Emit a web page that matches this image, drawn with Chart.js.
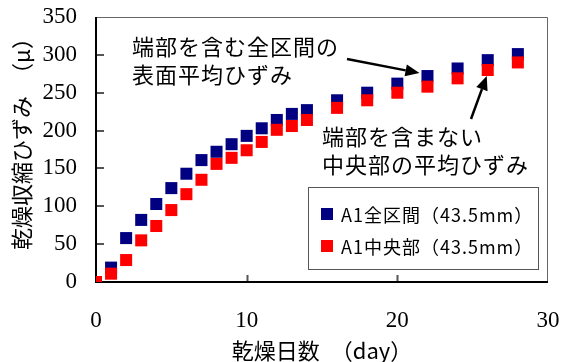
<!DOCTYPE html>
<html lang="ja">
<head>
<meta charset="utf-8">
<script src="https://cdn.jsdelivr.net/npm/chart.js@4"></script>
<style>
  body { margin: 0; background: #fff; }
  canvas { display: block; }
</style>
</head>
<body>
<canvas id="kansoChart" width="561" height="362"></canvas>
<script>
// 乾燥日数 (day)
const dias = [0, 1, 2, 3, 4, 5, 6, 7, 8, 9, 10, 11, 12, 13, 14, 16, 18, 20, 22, 24, 26, 28];
// 乾燥収縮ひずみ (μ)
const zenkukan = [0, 19, 58, 82, 103, 124, 143, 161, 172, 182, 193, 203, 214, 222, 227, 240, 250, 262, 272, 282, 293, 301];
const chuobu = [0, 11, 29, 55, 74, 95, 116, 135, 156, 164, 174, 185, 201, 206, 214, 230, 240, 250, 258, 269, 280, 290];
const xTicks = [0, 10, 20, 30];
const yTicks = [0, 50, 100, 150, 200, 250, 300, 350];

const JP = "'Noto Sans CJK JP', sans-serif";
const SERIF = "'Liberation Serif', serif";

function pares(xs, ys) {
  return xs.map((d, i) => ({ x: d, y: ys[i] }));
}

// moldura do gráfico + ticks para dentro
const moldura = {
  id: "moldura",
  beforeDatasetsDraw(chart) {
    const { ctx, chartArea: a, scales: { x, y } } = chart;
    ctx.save();
    ctx.strokeStyle = "#666";
    ctx.lineWidth = 1;
    ctx.beginPath();
    ctx.moveTo(a.left, a.top + 0.5);
    ctx.lineTo(a.right - 0.5, a.top + 0.5);
    ctx.lineTo(a.right - 0.5, a.bottom);
    ctx.stroke();

    ctx.strokeStyle = "#555";
    ctx.lineWidth = 2;
    ctx.beginPath();
    yTicks.slice(1, -1).forEach((v) => {
      const py = Math.round(y.getPixelForValue(v));
      ctx.moveTo(a.left, py);
      ctx.lineTo(a.left + 8, py);
    });
    xTicks.slice(1, -1).forEach((v) => {
      const px = Math.round(x.getPixelForValue(v)) + 0.5;
      ctx.moveTo(px, a.bottom);
      ctx.lineTo(px, a.bottom - 7);
    });
    ctx.stroke();

    ctx.strokeStyle = "#000";
    ctx.lineWidth = 2;
    ctx.beginPath();
    ctx.moveTo(a.left, a.top);
    ctx.lineTo(a.left, a.bottom);
    ctx.lineTo(a.right, a.bottom);
    ctx.stroke();
    ctx.restore();
  },
};

function seta(ctx, x0, y0, x1, y1) {
  const ang = Math.atan2(y1 - y0, x1 - x0);
  const len = 14, half = 6;
  const bx = x1 - len * Math.cos(ang);
  const by = y1 - len * Math.sin(ang);
  ctx.beginPath();
  ctx.moveTo(x0, y0);
  ctx.lineTo(bx, by);
  ctx.stroke();
  ctx.beginPath();
  ctx.moveTo(x1, y1);
  ctx.lineTo(bx - half * Math.sin(ang), by + half * Math.cos(ang));
  ctx.lineTo(bx + half * Math.sin(ang), by - half * Math.cos(ang));
  ctx.closePath();
  ctx.fill();
}

// legenda dentro da área + anotações com setas
const extras = {
  id: "extras",
  afterDraw(chart) {
    const { ctx, scales: { x, y } } = chart;
    ctx.save();

    // legenda
    ctx.fillStyle = "#fff";
    ctx.fillRect(308, 187, 230, 82);
    ctx.strokeStyle = "#555";
    ctx.lineWidth = 1;
    ctx.strokeRect(308.5, 187.5, 230, 82);
    ctx.font = "18px " + JP;
    ctx.textBaseline = "middle";
    ctx.letterSpacing = "1px";
    chart.data.datasets.forEach((ds, i) => {
      const cy = 214 + i * 32;
      ctx.fillStyle = ds.backgroundColor;
      ctx.fillRect(321, cy - 6, 12, 12);
      ctx.fillStyle = "#000";
      ctx.fillText(ds.label, 341, cy + 1);
    });

    // anotações
    ctx.fillStyle = "#000";
    ctx.font = "22px " + JP;
    ctx.fillText("端部を含む全区間の", 132, 47);
    ctx.fillText("表面平均ひずみ", 132, 75);
    ctx.fillText("端部を含まない", 322, 137);
    ctx.fillText("中央部の平均ひずみ", 322, 165);
    ctx.letterSpacing = "0px";

    ctx.strokeStyle = "#000";
    ctx.lineWidth = 2.5;
    seta(ctx, 347, 59, x.getPixelForValue(22) - 8, y.getPixelForValue(272) - 3);
    seta(ctx, 471, 119, x.getPixelForValue(26) - 1, y.getPixelForValue(280) + 6);
    ctx.restore();
  },
};

new Chart(document.getElementById("kansoChart"), {
  type: "scatter",
  data: {
    datasets: [
      {
        label: "A1全区間（43.5mm）",
        data: pares(dias, zenkukan),
        backgroundColor: "#000080",
        borderColor: "#000080",
        pointStyle: "rect",
        pointRadius: 8.5,
        pointBorderWidth: 0,
        order: 1,
      },
      {
        label: "A1中央部（43.5mm）",
        data: pares(dias, chuobu),
        backgroundColor: "#ff0000",
        borderColor: "#ff0000",
        pointStyle: "rect",
        pointRadius: 8.5,
        pointBorderWidth: 0,
        order: 0,
      },
    ],
  },
  options: {
    responsive: false,
    animation: false,
    layout: { padding: { left: 0, right: 13, top: 17, bottom: 0 } },
    plugins: {
      legend: { display: false },
      tooltip: { enabled: false },
    },
    scales: {
      x: {
        type: "linear",
        min: 0,
        max: 30,
        afterBuildTicks: (s) => { s.ticks = xTicks.map((v) => ({ value: v })); },
        afterFit: (s) => {
          s.height = 80;
          s.paddingLeft = 0;
          s.paddingRight = 0;
        },
        grid: { display: false, drawTicks: false },
        border: { display: false },
        ticks: { color: "#000", padding: 25, maxRotation: 0, font: { family: SERIF, size: 23 } },
        title: {
          display: true,
          text: "乾燥日数　（day）",
          color: "#000",
          font: { family: JP, size: 22, lineHeight: 1 },
          padding: { top: 0, bottom: 0 },
        },
      },
      y: {
        type: "linear",
        min: 0,
        max: 350,
        afterBuildTicks: (s) => { s.ticks = yTicks.map((v) => ({ value: v })); },
        afterFit: (s) => {
          s.width = 96;
          s.paddingTop = 0;
          s.paddingBottom = 0;
        },
        grid: { display: false, drawTicks: false },
        border: { display: false },
        ticks: { color: "#000", padding: 19, font: { family: SERIF, size: 23 } },
        title: {
          display: true,
          text: "　乾燥収縮ひずみ　（μ）",
          color: "#000",
          font: { family: JP, size: 22, lineHeight: 1 },
          padding: { top: 11, bottom: 0 },
        },
      },
    },
  },
  plugins: [moldura, extras],
});
</script>
</body>
</html>
